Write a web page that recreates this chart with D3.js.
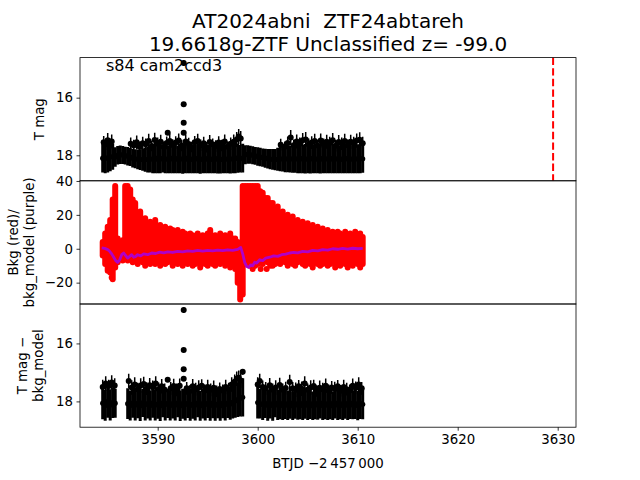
<!DOCTYPE html>
<html>
<head>
<meta charset="utf-8">
<script src="https://cdn.jsdelivr.net/npm/d3@7"></script>
<style>
  body { margin: 0; background: #fff; }
  text { font-family: "DejaVu Sans", sans-serif; fill: #000; white-space: pre; }
</style>
</head>
<body>
<svg id="chart" width="640" height="480"></svg>
<script>
// cadence times shared by the light curve, background and detrended panels
const times = [
  3584.5, 3584.75, 3585, 3585.25, 3585.5, 3585.75, 3586, 3586.25, 3586.5, 3586.75,
  3587, 3587.25, 3587.5, 3587.75, 3588, 3588.25, 3588.5, 3588.75, 3589, 3589.25,
  3589.5, 3589.75, 3590, 3590.25, 3590.5, 3590.75, 3591, 3591.25, 3591.5, 3591.75,
  3592, 3592.25, 3592.5, 3592.75, 3593, 3593.25, 3593.5, 3593.75, 3594, 3594.25,
  3594.5, 3594.75, 3595, 3595.25, 3595.5, 3595.75, 3596, 3596.25, 3596.5, 3596.75,
  3597, 3597.25, 3597.5, 3597.75, 3598, 3598.25, 3598.5, 3598.75, 3599, 3599.25,
  3599.5, 3599.75, 3600, 3600.25, 3600.5, 3600.75, 3601, 3601.25, 3601.5, 3601.75,
  3602, 3602.25, 3602.5, 3602.75, 3603, 3603.25, 3603.5, 3603.75, 3604, 3604.25,
  3604.5, 3604.75, 3605, 3605.25, 3605.5, 3605.75, 3606, 3606.25, 3606.5, 3606.75,
  3607, 3607.25, 3607.5, 3607.75, 3608, 3608.25, 3608.5, 3608.75, 3609, 3609.25,
  3609.5, 3609.75, 3610, 3610.25, 3610.5
];

// top panel: T mag and error
const tMag = [
  18.10, 18.09, 18.10, 18.05, 18.05, 18.06, 18.00, 17.98, 17.99, 18.01,
  18.03, 18.06, 18.10, 18.12, 18.14, 18.15, 18.15, 18.15, 18.15, 18.13,
  18.13, 18.10, 18.14, 18.11, 18.13, 18.12, 18.14, 18.10, 18.13, 18.11,
  18.14, 18.12, 18.13, 18.10, 18.14, 18.12, 18.15, 18.11, 18.13, 18.12,
  18.15, 18.11, 18.14, 18.12, 18.15, 18.11, 18.14, 18.13, 18.15, 18.12,
  18.14, 18.12, 18.13, 18.10, 18.10, 18.12, 18.10, 17.98, 17.97, 17.98,
  18.00, 18.02, 18.04, 18.06, 18.08, 18.10, 18.12, 18.13, 18.14, 18.15,
  18.14, 18.12, 18.13, 18.13, 18.12, 18.13, 18.12, 18.13, 18.12, 18.11,
  18.13, 18.12, 18.14, 18.11, 18.13, 18.14, 18.12, 18.14, 18.11, 18.13,
  18.12, 18.14, 18.11, 18.13, 18.12, 18.15, 18.12, 18.13, 18.11, 18.14,
  18.12, 18.13, 18.12, 18.11, 18.12
];
const tErr = [
  0.50, 0.53, 0.50, 0.50, 0.45, 0.34, 0.32, 0.32, 0.31, 0.31,
  0.32, 0.31, 0.32, 0.33, 0.34, 0.36, 0.39, 0.42, 0.45, 0.47,
  0.49, 0.52, 0.48, 0.51, 0.47, 0.50, 0.48, 0.52, 0.49, 0.51,
  0.48, 0.50, 0.51, 0.52, 0.48, 0.50, 0.47, 0.51, 0.49, 0.52,
  0.47, 0.51, 0.48, 0.50, 0.47, 0.51, 0.49, 0.50, 0.47, 0.50,
  0.48, 0.51, 0.49, 0.52, 0.51, 0.48, 0.50, 0.33, 0.32, 0.31,
  0.31, 0.31, 0.32, 0.32, 0.32, 0.33, 0.34, 0.35, 0.36, 0.37,
  0.40, 0.43, 0.43, 0.46, 0.47, 0.47, 0.49, 0.48, 0.50, 0.51,
  0.49, 0.51, 0.48, 0.52, 0.49, 0.48, 0.50, 0.49, 0.51, 0.49,
  0.50, 0.48, 0.51, 0.49, 0.50, 0.47, 0.50, 0.49, 0.51, 0.48,
  0.50, 0.49, 0.50, 0.51, 0.49
];

// brighter excursions on top of the light curve
const tPeakT = [3584.6, 3584.8, 3585.0, 3585.2, 3585.4, 3587.3, 3587.6, 3587.9, 3588.2, 3588.5,
  3588.8, 3589.1, 3589.4, 3589.7, 3590.0, 3590.3, 3590.6, 3590.9, 3591.2, 3591.5,
  3591.8, 3592.1, 3592.4, 3592.8, 3593.1, 3593.4, 3593.7, 3594.0, 3594.3, 3594.6,
  3594.9, 3595.2, 3595.5, 3595.8, 3596.1, 3596.4, 3596.7, 3597.0, 3597.3, 3597.6,
  3597.9, 3598.1, 3598.3, 3602.3, 3602.7, 3603.0, 3603.3, 3603.6, 3603.9, 3604.2,
  3604.5, 3604.8, 3605.1, 3605.4, 3605.7, 3606.0, 3606.3, 3606.6, 3606.9, 3607.2,
  3607.5, 3607.8, 3608.1, 3608.4, 3608.7, 3609.0, 3609.3, 3609.6, 3609.9, 3610.2,
  3610.5, 3591.0, 3592.6, 3592.6, 3592.6, 3592.6];
const tPeakMag = [17.55, 17.62, 17.48, 17.6, 17.52, 17.6, 17.66, 17.55, 17.7, 17.58,
  17.62, 17.5, 17.68, 17.47, 17.6, 17.53, 17.7, 17.57, 17.5, 17.64,
  17.56, 17.49, 17.66, 17.52, 17.61, 17.71, 17.55, 17.5, 17.65, 17.58,
  17.72, 17.54, 17.62, 17.68, 17.56, 17.66, 17.52, 17.7, 17.6, 17.53,
  17.45, 17.35, 17.42, 17.63, 17.7, 17.57, 17.38, 17.65, 17.52, 17.6,
  17.48, 17.45, 17.62, 17.56, 17.5, 17.66, 17.49, 17.62, 17.53, 17.58,
  17.48, 17.67, 17.54, 17.6, 17.5, 17.65, 17.53, 17.58, 17.49, 17.46,
  17.58, 17.22, 17.22, 16.87, 16.23, 14.8];
const tPeakErr = [0.22, 0.2, 0.25, 0.2, 0.24, 0.22, 0.2, 0.24, 0.18, 0.22,
  0.2, 0.25, 0.18, 0.25, 0.22, 0.24, 0.18, 0.22, 0.25, 0.2,
  0.22, 0.25, 0.2, 0.24, 0.22, 0.18, 0.22, 0.25, 0.2, 0.22,
  0.18, 0.24, 0.2, 0.2, 0.22, 0.2, 0.24, 0.18, 0.22, 0.25,
  0.26, 0.26, 0.26, 0.2, 0.18, 0.22, 0.26, 0.2, 0.24, 0.22,
  0.25, 0.26, 0.2, 0.22, 0.25, 0.2, 0.25, 0.2, 0.24, 0.22,
  0.25, 0.2, 0.24, 0.22, 0.25, 0.2, 0.24, 0.22, 0.25, 0.26,
  0.22, 0.05, 0.05, 0.05, 0.05, 0.1];

// middle panel: background flux spread (low / high) per cadence
const bkgLo = [
  -4, -9, -13, -14, -18, -11, -8, -6, -7, -5,
  -7, -6, -8, -7, -9, -7, -8, -10, -8, -9,
  -7, -9, -8, -10, -7, -9, -8, -7, -10, -8,
  -9, -7, -10, -8, -9, -7, -10, -9, -8, -11,
  -8, -9, -10, -8, -9, -10, -8, -9, -7, -10,
  -9, -11, -10, -12, -20, -30, -27, -9, -6, -10,
  -12, -10, -9, -8, -9, -7, -8, -10, -7, -9,
  -8, -9, -7, -8, -10, -8, -9, -10, -8, -7,
  -9, -10, -8, -9, -11, -8, -9, -10, -9, -8,
  -10, -9, -8, -11, -9, -10, -8, -9, -11, -9,
  -10, -8, -9, -11, -9
];
const bkgHi = [
  4, 9, 13, 17, 29, 37, 6, 2, 5, 37,
  37, 35, 29, 27, 21, 22, 17, 18, 15, 16,
  13, 17, 12, 14, 11, 13, 10, 12, 11, 9,
  11, 8, 10, 9, 7, 9, 8, 6, 9, 7,
  8, 6, 9, 11, 6, 8, 7, 9, 6, 8,
  7, 9, 6, 6, 4, 2, 37, 37, 37, 37,
  37, 37, 37, 34, 33, 30, 30, 27, 27, 24,
  25, 21, 22, 19, 20, 17, 19, 16, 17, 15,
  16, 13, 15, 12, 14, 11, 13, 10, 12, 9,
  11, 9, 10, 8, 10, 9, 8, 10, 7, 9,
  8, 10, 8, 9, 7
];
const bkgOutT = [3585.4, 3600.3, 3600.9, 3601.5, 3602.0];
const bkgOutV = [-17, -12, -12, -10, -8];

// bkg_model curve
const modelT = [3584.4, 3584.7, 3585.0, 3585.2, 3585.4, 3585.6, 3585.8, 3586.0, 3586.2, 3586.4,
  3586.6, 3586.8, 3587.0, 3587.2, 3587.4, 3587.6, 3587.8, 3588.0, 3588.3, 3588.6,
  3589.0, 3589.4, 3589.8, 3590.2, 3590.6, 3591.0, 3591.5, 3592.0, 3592.5, 3593.0,
  3593.5, 3594.0, 3594.5, 3595.0, 3595.5, 3596.0, 3596.5, 3597.0, 3597.5, 3598.0,
  3598.3, 3598.5, 3598.7, 3598.9, 3599.1, 3599.3, 3599.5, 3599.7, 3599.9, 3600.2,
  3600.5, 3600.8, 3601.2, 3601.6, 3602.0, 3602.4, 3602.8, 3603.2, 3603.6, 3604.0,
  3604.5, 3605.0, 3605.5, 3606.0, 3606.5, 3607.0, 3607.5, 3608.0, 3608.5, 3609.0,
  3609.5, 3610.0, 3610.5];
const modelV = [0.5, 0.2, -0.5, -1.5, -3, -5, -7, -8, -6.5, -3.5,
  -2.5, -4, -5.5, -4.5, -3.5, -5, -4.5, -3.5, -4.2, -3,
  -3.5, -2.5, -2.8, -2, -2.4, -1.8, -2.2, -1.5, -1.8, -1.2,
  -1.5, -1.0, -1.4, -0.9, -1.2, -0.8, -1.1, -0.6, -0.9, -0.4,
  0.8, -3, -8, -10.5, -11, -9.5, -10, -8, -8.5, -6.5,
  -7, -5.5, -5, -4.2, -4.5, -3.5, -3.2, -2.5, -2.2, -2.4,
  -1.5, -1.8, -1, -1.2, -0.5, -0.8, 0, -0.3, 0.2, -0.2,
  0.3, 0, 0.2];

// bottom panel: T mag - bkg_model (null where no data)
const dMag = [
  18.06, 18.14, 18.01, 18.12, 18.04, 18.06, null, null, null, null,
  18.08, 18.14, 18.06, 18.12, 18.07, 18.15, 18.05, 18.11, 18.08, 18.14,
  18.06, 18.12, 18.09, 18.15, 18.06, 18.11, 18.07, 18.14, 18.08, 18.12,
  18.06, 18.15, 18.08, 18.11, 18.07, 18.14, 18.09, 18.12, 18.06, 18.15,
  18.08, 18.11, 18.07, 18.14, 18.06, 18.13, 18.09, 18.15, 18.07, 18.11,
  18.06, 18.09, 18.03, 17.98, 17.94, 17.89, 17.86, null, null, null,
  null, null, 18.04, 18.08, 18.11, 18.07, 18.13, 18.08, 18.14, 18.06,
  18.12, 18.07, 18.14, 18.08, 18.13, 18.06, 18.15, 18.08, 18.12, 18.07,
  18.14, 18.06, 18.13, 18.08, 18.15, 18.07, 18.12, 18.06, 18.14, 18.08,
  18.13, 18.07, 18.15, 18.06, 18.12, 18.08, 18.14, 18.07, 18.13, 18.06,
  18.12, 18.08, 18.14, 18.07, 18.10
];
const dErr = [
  0.56, 0.53, 0.55, 0.54, 0.53, 0.50, 0, 0, 0, 0,
  0.53, 0.52, 0.50, 0.54, 0.51, 0.53, 0.49, 0.55, 0.51, 0.52,
  0.50, 0.54, 0.51, 0.53, 0.49, 0.55, 0.50, 0.52, 0.51, 0.54,
  0.49, 0.53, 0.52, 0.55, 0.50, 0.53, 0.51, 0.54, 0.49, 0.52,
  0.51, 0.55, 0.50, 0.53, 0.52, 0.54, 0.49, 0.52, 0.51, 0.55,
  0.51, 0.54, 0.56, 0.58, 0.60, 0.63, 0.66, 0, 0, 0,
  0, 0, 0.55, 0.51, 0.53, 0.50, 0.54, 0.51, 0.53, 0.49,
  0.52, 0.55, 0.50, 0.53, 0.51, 0.54, 0.49, 0.52, 0.51, 0.55,
  0.50, 0.54, 0.51, 0.53, 0.49, 0.55, 0.51, 0.53, 0.50, 0.54,
  0.51, 0.55, 0.49, 0.53, 0.52, 0.54, 0.50, 0.53, 0.51, 0.55,
  0.50, 0.53, 0.51, 0.54, 0.52
];
const dPeakT = [3584.5, 3584.8, 3585.1, 3585.4, 3585.7, 3587.1, 3587.4, 3587.7, 3588.0, 3588.3,
  3588.6, 3588.9, 3589.2, 3589.5, 3589.8, 3590.1, 3590.4, 3590.7, 3591.3, 3591.6,
  3591.9, 3592.2, 3592.9, 3593.2, 3593.5, 3593.8, 3594.1, 3594.4, 3594.7, 3595.0,
  3595.3, 3595.6, 3595.9, 3596.2, 3596.5, 3596.8, 3597.1, 3597.4, 3597.7, 3597.9,
  3598.1, 3598.3, 3600.0, 3600.2, 3600.5, 3600.8, 3601.2, 3601.5, 3601.8, 3602.2,
  3602.5, 3602.8, 3603.2, 3603.5, 3603.8, 3604.1, 3604.4, 3604.7, 3605.0, 3605.3,
  3605.6, 3605.9, 3606.2, 3606.5, 3606.8, 3607.1, 3607.4, 3607.7, 3608.0, 3608.3,
  3608.6, 3608.9, 3609.2, 3609.5, 3609.8, 3610.1, 3610.4,
  3591.0, 3592.6, 3592.6, 3592.6, 3592.6, 3598.5];
const dPeakMag = [17.5, 17.38, 17.47, 17.35, 17.45, 17.3, 17.52, 17.42, 17.58, 17.45,
  17.4, 17.56, 17.44, 17.5, 17.38, 17.57, 17.48, 17.6, 17.55, 17.47,
  17.6, 17.46, 17.55, 17.64, 17.48, 17.58, 17.52, 17.46, 17.62, 17.5,
  17.6, 17.53, 17.65, 17.57, 17.62, 17.5, 17.58, 17.42, 17.32, 17.22,
  17.18, 17.28, 17.42, 17.3, 17.5, 17.55, 17.44, 17.6, 17.52, 17.43,
  17.6, 17.54, 17.33, 17.55, 17.6, 17.48, 17.56, 17.38, 17.6, 17.52,
  17.47, 17.64, 17.53, 17.58, 17.46, 17.62, 17.52, 17.57, 17.48, 17.63,
  17.5, 17.58, 17.62, 17.46, 17.53, 17.42, 17.55,
  17.25, 17.22, 16.89, 16.23, 14.85, 16.98];
const dPeakErr = [0.25, 0.25, 0.22, 0.25, 0.25, 0.25, 0.25, 0.25, 0.22, 0.25,
  0.25, 0.22, 0.25, 0.22, 0.25, 0.22, 0.25, 0.22, 0.22, 0.25,
  0.22, 0.25, 0.22, 0.2, 0.25, 0.22, 0.25, 0.22, 0.2, 0.25,
  0.22, 0.25, 0.2, 0.22, 0.2, 0.25, 0.22, 0.25, 0.25, 0.25,
  0.25, 0.25, 0.25, 0.25, 0.22, 0.22, 0.25, 0.22, 0.25, 0.25,
  0.22, 0.22, 0.25, 0.22, 0.25, 0.22, 0.25, 0.25, 0.22, 0.25,
  0.22, 0.2, 0.25, 0.22, 0.25, 0.2, 0.22, 0.25, 0.22, 0.2,
  0.25, 0.22, 0.2, 0.25, 0.22, 0.25, 0.22,
  0.05, 0.05, 0.05, 0.05, 0.1, 0.1];

const peakTime = [3629.54];
const xTicks = [3590, 3600, 3610, 3620, 3630];
const titleLines = ["AT2024abni  ZTF24abtareh", "19.6618g-ZTF Unclassified z= -99.0"];
const sectorLabel = "s84 cam2ccd3";

const svg = d3.select('#chart');
svg.append('rect').attr('width', 640).attr('height', 480).attr('fill', '#fff');

const left = 80, right = 576;
const panels = [
  { top: 57.6, bottom: 180.8 },
  { top: 180.8, bottom: 304 },
  { top: 304, bottom: 427.2 }
];

const x = d3.scaleLinear().domain([3582.23, 3631.83]).range([left, right]);
const yTop = d3.scaleLinear().domain([14.61, 18.885]).range([panels[0].top, panels[0].bottom]);
const yMid = d3.scaleLinear().domain([40.1, -32.6]).range([panels[1].top, panels[1].bottom]);
const yBot = d3.scaleLinear().domain([14.64, 18.89]).range([panels[2].top, panels[2].bottom]);

const minus = d => String(d).replace('-', '\u2212');

const defs = svg.append('defs');
panels.forEach((p, i) => {
  defs.append('clipPath').attr('id', 'clip' + i)
    .append('rect')
    .attr('x', left).attr('y', p.top)
    .attr('width', right - left).attr('height', p.bottom - p.top);
});

function errorbars(g, ts, ms, es, y, barW, r) {
  const pts = ts.map((t, i) => ({ t, m: ms[i], e: es[i] })).filter(d => d.m != null);
  g.append('g').selectAll('line')
    .data(pts).join('line')
    .attr('x1', d => x(d.t)).attr('x2', d => x(d.t))
    .attr('y1', d => y(d.m - d.e)).attr('y2', d => y(d.m + d.e))
    .attr('stroke', '#000').attr('stroke-width', barW);
  g.append('g').selectAll('circle')
    .data(pts).join('circle')
    .attr('cx', d => x(d.t)).attr('cy', d => y(d.m))
    .attr('r', r).attr('fill', '#000');
}

// top panel
const g0 = svg.append('g').attr('clip-path', 'url(#clip0)');
errorbars(g0, times, tMag, tErr, yTop, 3, 2.6);
errorbars(g0, tPeakT, tPeakMag, tPeakErr, yTop, 1.5, 3);
g0.selectAll('.peak')
  .data(peakTime).join('line')
  .attr('x1', d => x(d)).attr('x2', d => x(d))
  .attr('y1', panels[0].top).attr('y2', panels[0].bottom)
  .attr('stroke', '#ff0000').attr('stroke-width', 2)
  .attr('stroke-dasharray', '7.4,3.2');

// middle panel
const g1 = svg.append('g').attr('clip-path', 'url(#clip1)');
g1.append('g').selectAll('line')
  .data(times.map((t, i) => ({ t, lo: bkgLo[i], hi: bkgHi[i] })))
  .join('line')
  .attr('x1', d => x(d.t)).attr('x2', d => x(d.t))
  .attr('y1', d => yMid(d.hi)).attr('y2', d => yMid(d.lo))
  .attr('stroke', '#ff0000').attr('stroke-width', 6)
  .attr('stroke-linecap', 'round');
g1.append('g').selectAll('circle')
  .data(bkgOutT.map((t, i) => ({ t, v: bkgOutV[i] })))
  .join('circle')
  .attr('cx', d => x(d.t)).attr('cy', d => yMid(d.v))
  .attr('r', 3).attr('fill', '#ff0000');
g1.append('path')
  .datum(modelT.map((t, i) => [t, modelV[i]]))
  .attr('d', d3.line().x(d => x(d[0])).y(d => yMid(d[1])))
  .attr('fill', 'none').attr('stroke', '#b000c8').attr('stroke-width', 2.8)
  .attr('stroke-linejoin', 'round');

// bottom panel
const g2 = svg.append('g').attr('clip-path', 'url(#clip2)');
errorbars(g2, times, dMag, dErr, yBot, 3, 2.6);
errorbars(g2, dPeakT, dPeakMag, dPeakErr, yBot, 1.5, 3);

// frames and axes
panels.forEach(p => {
  svg.append('rect')
    .attr('x', left).attr('y', p.top)
    .attr('width', right - left).attr('height', p.bottom - p.top)
    .attr('fill', 'none').attr('stroke', '#000').attr('stroke-width', 0.8);
});

function styleAxis(a) {
  a.select('.domain').remove();
  a.selectAll('.tick line').attr('stroke', '#000').attr('stroke-width', 0.8);
  a.selectAll('.tick text').attr('font-size', '13.33px').attr('font-family', 'DejaVu Sans').attr('fill', '#000');
}

styleAxis(svg.append('g').attr('transform', `translate(${left},0)`)
  .call(d3.axisLeft(yTop).tickValues([16, 18]).tickSize(3.5).tickPadding(3.5).tickFormat(minus)));
styleAxis(svg.append('g').attr('transform', `translate(${left},0)`)
  .call(d3.axisLeft(yMid).tickValues([40, 20, 0, -20]).tickSize(3.5).tickPadding(3.5).tickFormat(minus)));
styleAxis(svg.append('g').attr('transform', `translate(${left},0)`)
  .call(d3.axisLeft(yBot).tickValues([16, 18]).tickSize(3.5).tickPadding(3.5).tickFormat(minus)));
styleAxis(svg.append('g').attr('transform', `translate(0,${panels[2].bottom})`)
  .call(d3.axisBottom(x).tickValues(xTicks).tickSize(3.5).tickPadding(3.5).tickFormat(d3.format('d'))));

// labels
function ylabel(lines, cy) {
  lines.forEach(l => {
    svg.append('text')
      .attr('transform', `translate(${l.x},${cy}) rotate(-90)`)
      .attr('text-anchor', 'middle')
      .attr('font-size', '13.33px')
      .text(l.t);
  });
}
ylabel([{ t: 'T mag', x: 44 }], (panels[0].top + panels[0].bottom) / 2);
ylabel([{ t: 'Bkg (red)/', x: 17.5 }, { t: 'bkg_model (purple)', x: 33.5 }], (panels[1].top + panels[1].bottom) / 2);
ylabel([{ t: 'T mag \u2212', x: 27 }, { t: 'bkg_model', x: 43 }], (panels[2].top + panels[2].bottom) / 2);

svg.append('text')
  .attr('x', (left + right) / 2).attr('y', 468)
  .attr('text-anchor', 'middle').attr('font-size', '13.33px')
  .text('BTJD \u22122\u2009457\u2009000');

titleLines.forEach((t, i) => {
  svg.append('text')
    .attr('x', (left + right) / 2).attr('y', 28 + i * 22.5)
    .attr('text-anchor', 'middle').attr('font-size', '20px')
    .text(t);
});

svg.append('text')
  .attr('x', 106).attr('y', 71)
  .attr('font-size', '16px')
  .text(sectorLabel);
</script>
</body>
</html>
